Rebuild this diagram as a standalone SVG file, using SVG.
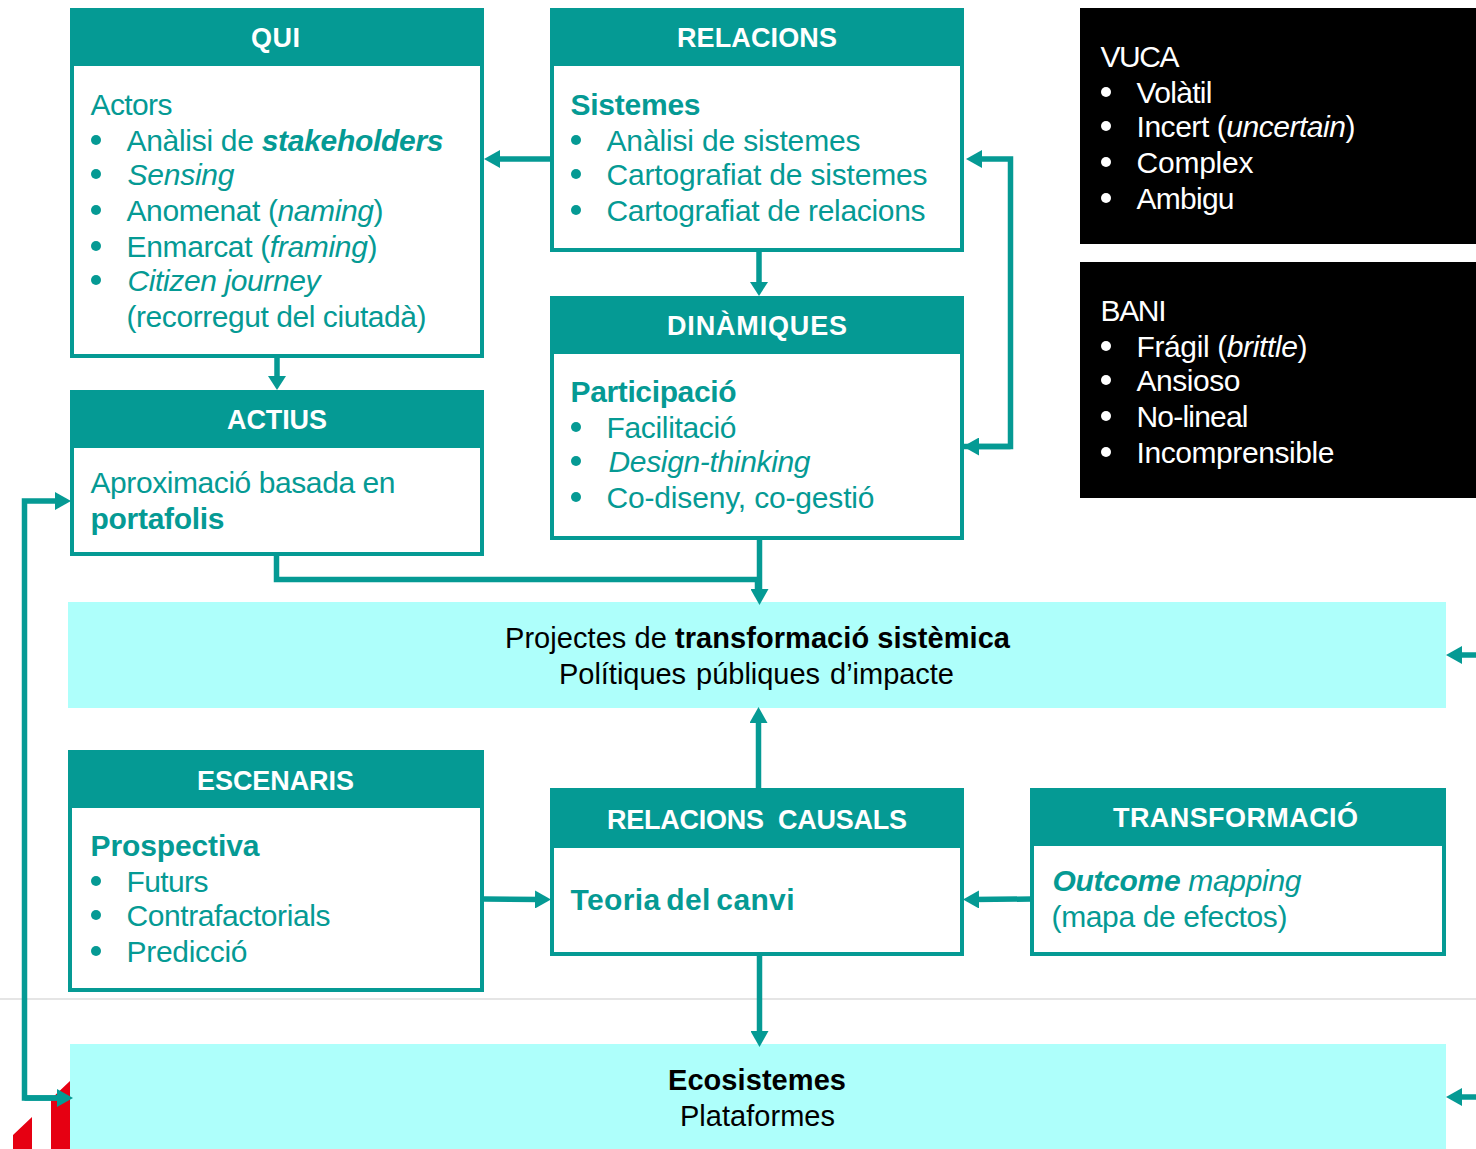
<svg xmlns="http://www.w3.org/2000/svg" width="1476" height="1149" viewBox="0 0 1476 1149">
<defs>
<style>
text{font-family:"Liberation Sans",Arial,sans-serif;}
.box{fill:#fff;stroke:#059a94;stroke-width:4}
.hd{fill:#059a94}
.ht{fill:#fff;font-size:27px;font-weight:bold;text-anchor:middle}
.t{fill:#059a94;font-size:30px}
.w{fill:#fff;font-size:30px}
.k{fill:#000;font-size:29px;text-anchor:middle}
.b{font-weight:bold}
.i{font-style:italic}
.c{fill:none;stroke:#059a94;stroke-width:5.500}
.dot{fill:#059a94}
.wd{fill:#fff}
.light{fill:#aefffb}
</style>
<marker id="a" markerUnits="userSpaceOnUse" markerWidth="17" markerHeight="18" refX="6" refY="9" orient="auto"><path d="M0 0L16 9L0 18Z" fill="#059a94"/></marker>
<marker id="s" markerUnits="userSpaceOnUse" markerWidth="15" markerHeight="18" refX="4" refY="9" orient="auto"><path d="M0 0L14 9L0 18Z" fill="#059a94"/></marker>
</defs>
<rect width="1476" height="1149" fill="#fff"/>
<path d="M0 999H1476" stroke="#e5e5e5" stroke-width="2"/>
<path d="M13 1135L32 1117V1149H13ZM51 1099L70 1081V1149H51Z" fill="#e60012"/>
<g id="n-proj"><rect class="light" x="68" y="602" width="1378" height="106"/>
<text class="k" x="757.5" y="648" textLength="505">Projectes de <tspan class="b">transformació sistèmica</tspan></text>
<text class="k" x="756.5" y="684" textLength="395" style="word-spacing:2px">Polítiques públiques d’impacte</text></g>
<g id="n-eco"><rect class="light" x="70" y="1044" width="1376" height="105"/>
<text class="k b" x="757" y="1090" textLength="178">Ecosistemes</text>
<text class="k" x="757.5" y="1126" textLength="155">Plataformes</text></g>
<g id="n-qui"><rect class="box" x="72" y="10" width="410" height="346"/><rect class="hd" x="70" y="8" width="414" height="58"/>
<text class="ht" x="275.5" y="47" textLength="49">QUI</text>
<text class="t" x="90.500" y="115" textLength="82">Actors</text>
<circle class="dot" cx="96" cy="140" r="5"/><text class="t" x="126.500" y="151" textLength="317">Anàlisi de <tspan class="b i">stakeholders</tspan></text>
<circle class="dot" cx="96" cy="174" r="5"/><text class="t i" x="127.500" y="185" textLength="107">Sensing</text>
<circle class="dot" cx="96" cy="210" r="5"/><text class="t" x="126.500" y="221" textLength="257">Anomenat (<tspan class="i">naming</tspan>)</text>
<circle class="dot" cx="96" cy="246" r="5"/><text class="t" x="126.500" y="257" textLength="251">Enmarcat (<tspan class="i">framing</tspan>)</text>
<circle class="dot" cx="96" cy="280" r="5"/><text class="t i" x="127.500" y="291" textLength="193">Citizen journey</text>
<text class="t" x="126.500" y="327" textLength="300">(recorregut del ciutadà)</text></g>
<g id="n-rel"><rect class="box" x="552" y="10" width="410" height="240"/><rect class="hd" x="550" y="8" width="414" height="58"/>
<text class="ht" x="757" y="47" textLength="160">RELACIONS</text>
<text class="t b" x="570.500" y="115" textLength="130">Sistemes</text>
<circle class="dot" cx="576" cy="140" r="5"/><text class="t" x="606.500" y="151" textLength="254">Anàlisi de sistemes</text>
<circle class="dot" cx="576" cy="174" r="5"/><text class="t" x="606.500" y="185" textLength="321">Cartografiat de sistemes</text>
<circle class="dot" cx="576" cy="210" r="5"/><text class="t" x="606.500" y="221" textLength="319">Cartografiat de relacions</text></g>
<g id="n-din"><rect class="box" x="552" y="298" width="410" height="240"/><rect class="hd" x="550" y="296" width="414" height="58"/>
<text class="ht" x="757" y="335" textLength="180">DINÀMIQUES</text>
<text class="t b" x="570.500" y="402" textLength="166">Participació</text>
<circle class="dot" cx="576" cy="427" r="5"/><text class="t" x="606.500" y="438" textLength="130">Facilitació</text>
<circle class="dot" cx="576" cy="461" r="5"/><text class="t i" x="608.500" y="472" textLength="202">Design-thinking</text>
<circle class="dot" cx="576" cy="497" r="5"/><text class="t" x="606.500" y="508" textLength="268">Co-diseny, co-gestió</text></g>
<g id="n-act"><rect class="box" x="72" y="392" width="410" height="162"/><rect class="hd" x="70" y="390" width="414" height="58"/>
<text class="ht" x="277" y="428.500" textLength="100">ACTIUS</text>
<text class="t" x="90.500" y="493" textLength="305">Aproximació basada en</text>
<text class="t b" x="90.500" y="529" textLength="134">portafolis</text></g>
<g id="n-esc"><rect class="box" x="70" y="752" width="412" height="238"/><rect class="hd" x="68" y="750" width="416" height="58"/>
<text class="ht" x="275.5" y="789.500" textLength="157">ESCENARIS</text>
<text class="t b" x="90.500" y="856" textLength="169">Prospectiva</text>
<circle class="dot" cx="96" cy="881" r="5"/><text class="t" x="126.500" y="892" textLength="82">Futurs</text>
<circle class="dot" cx="96" cy="915" r="5"/><text class="t" x="126.500" y="926" textLength="204">Contrafactorials</text>
<circle class="dot" cx="96" cy="951" r="5"/><text class="t" x="126.500" y="962" textLength="121">Predicció</text></g>
<g id="n-cau"><rect class="box" x="552" y="790" width="410" height="164"/><rect class="hd" x="550" y="788" width="414" height="60"/>
<text class="ht" x="757" y="828.500" textLength="300" style="word-spacing:7px">RELACIONS CAUSALS</text>
<text class="t b" x="570.500" y="910" textLength="224" style="word-spacing:-3px">Teoria del canvi</text></g>
<g id="n-tra"><rect class="box" x="1032" y="790" width="412" height="164"/><rect class="hd" x="1030" y="788" width="416" height="58"/>
<text class="ht" x="1235.5" y="827" textLength="245">TRANSFORMACIÓ</text>
<text class="t" x="1052.500" y="891" textLength="249"><tspan class="b i">Outcome</tspan> <tspan class="i">mapping</tspan></text>
<text class="t" x="1051.500" y="927" textLength="236">(mapa de efectos)</text></g>
<g id="n-vuca"><rect x="1080" y="8" width="396" height="236" fill="#000"/>
<text class="w" x="1100.500" y="67" textLength="79">VUCA</text>
<circle class="wd" cx="1106" cy="92" r="5"/><text class="w" x="1136.500" y="103" textLength="76">Volàtil</text>
<circle class="wd" cx="1106" cy="126" r="5"/><text class="w" x="1136.500" y="137" textLength="219">Incert (<tspan class="i">uncertain</tspan>)</text>
<circle class="wd" cx="1106" cy="162" r="5"/><text class="w" x="1136.500" y="173" textLength="117">Complex</text>
<circle class="wd" cx="1106" cy="198" r="5"/><text class="w" x="1136.500" y="209" textLength="98">Ambigu</text></g>
<g id="n-bani"><rect x="1080" y="262" width="396" height="236" fill="#000"/>
<text class="w" x="1100.500" y="321" textLength="66">BANI</text>
<circle class="wd" cx="1106" cy="346" r="5"/><text class="w" x="1136.500" y="357" textLength="171">Frágil (<tspan class="i">brittle</tspan>)</text>
<circle class="wd" cx="1106" cy="380" r="5"/><text class="w" x="1136.500" y="391" textLength="104">Ansioso</text>
<circle class="wd" cx="1106" cy="416" r="5"/><text class="w" x="1136.500" y="427" textLength="112">No-lineal</text>
<circle class="wd" cx="1106" cy="452" r="5"/><text class="w" x="1136.500" y="463" textLength="198">Incomprensible</text></g>
<g id="connectors">
<path class="c" d="M552 159H494" marker-end="url(#a)"/>
<path class="c" d="M759 250V286" marker-end="url(#s)"/>
<path class="c" d="M277 356V380" marker-end="url(#s)"/>
<path class="c" d="M963 446.500H1010.500V159H976" marker-end="url(#a)"/>
<path class="c" d="M1010.500 446.500H973" marker-end="url(#a)"/>
<path class="c" d="M276.500 554V579.500H757.500V595"/>
<path class="c" d="M759.500 538V595" marker-end="url(#a)"/>
<path class="c" d="M758.500 790V717" marker-end="url(#a)"/>
<path class="c" d="M484 899L541 899.500" marker-end="url(#a)"/>
<path class="c" d="M1032 899L973 899.500" marker-end="url(#a)"/>
<path class="c" d="M759.500 954V1037" marker-end="url(#a)"/>
<path class="c" d="M63 1098H24.500V501H61" marker-end="url(#a)"/>
<path class="c" d="M24.500 1098H63" marker-end="url(#a)"/>
<path class="c" d="M1476 655H1456" marker-end="url(#a)"/>
<path class="c" d="M1476 1097H1456" marker-end="url(#a)"/>
</g>
</svg>
